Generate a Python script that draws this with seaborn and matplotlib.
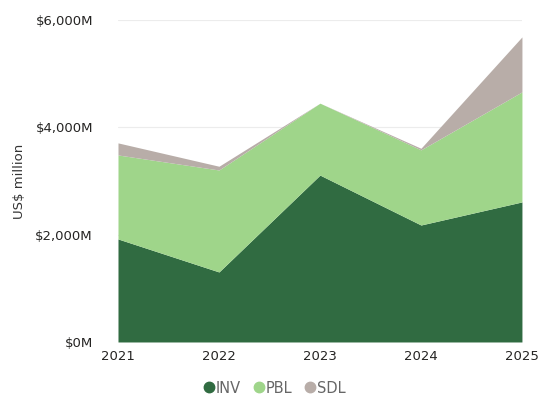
import matplotlib
matplotlib.use("Agg")
import matplotlib.pyplot as plt
from matplotlib.lines import Line2D
from matplotlib.ticker import FuncFormatter
import seaborn as sns
import pandas as pd

# Annual values by segment, US$ million
years = [2021, 2022, 2023, 2024, 2025]
inv = [1920, 1305, 3110, 2180, 2610]
pbl = [1565, 1900, 1340, 1400, 2050]
sdl = [225, 70, 0, 30, 1025]
segments = ["INV", "PBL", "SDL"]
colors = ["#306b41", "#9fd58a", "#b8ada8"]
y_ticks = [0, 2000, 4000, 6000]

sns.set_theme(style="white")
plt.rcParams["font.family"] = ["DejaVu Sans"]

df = pd.DataFrame({"year": years, "INV": inv, "PBL": pbl, "SDL": sdl})

fig = plt.figure(figsize=(5.42, 3.96), dpi=100)
ax = fig.add_axes([0.2177, 0.1364, 0.7453, 0.8131])

ax.stackplot(df["year"], df["INV"], df["PBL"], df["SDL"],
             colors=colors, labels=segments, linewidth=0, zorder=2)

ax.set_xlim(years[0], years[-1])
ax.set_ylim(0, 6000)
ax.set_xticks(years)
ax.set_yticks(y_ticks)
ax.yaxis.set_major_formatter(FuncFormatter(lambda v, p: f"${v:,.0f}M"))
ax.grid(axis="y", color="#ececec", linewidth=0.8, zorder=0)
ax.grid(axis="x", visible=False)
for s in ax.spines.values():
    s.set_visible(False)

ax.tick_params(axis="y", labelsize=9.5, labelcolor="#252423", length=0, pad=18)
ax.tick_params(axis="x", labelsize=9.5, labelcolor="#252423", length=0, pad=6)

ax.set_ylabel("US$ million", fontsize=9.5, color="#333333")
ax.yaxis.set_label_coords(-0.228, 0.5)

handles = [Line2D([0], [0], marker="o", linestyle="", markersize=7.5,
                  markerfacecolor=c, markeredgecolor=c) for c in colors]
fig.legend(handles, segments, loc="center", bbox_to_anchor=(0.505, 0.02),
           ncol=3, frameon=False, fontsize=10.5, labelcolor="#666666",
           handletextpad=0.0, columnspacing=0.7, handlelength=1.0)

fig.savefig("out.png", dpi=100)
